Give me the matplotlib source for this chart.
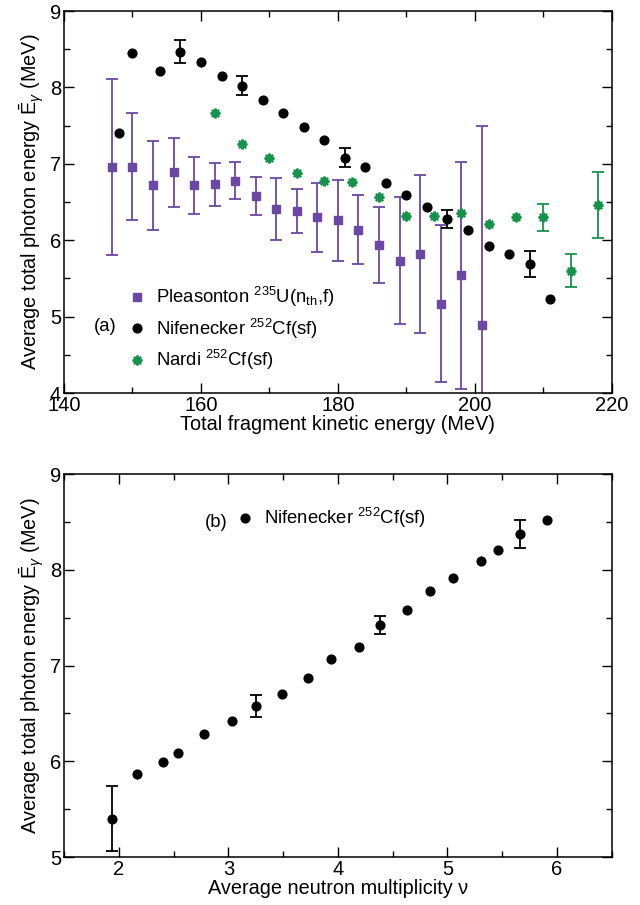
import numpy as np
import matplotlib
matplotlib.use('Agg')
import matplotlib.pyplot as plt
from matplotlib.ticker import MultipleLocator

plt.rcParams['font.family'] = ['Liberation Sans', 'DejaVu Sans']
plt.rcParams['mathtext.fontset'] = 'custom'
plt.rcParams['mathtext.rm'] = 'Liberation Sans'
plt.rcParams['mathtext.it'] = 'Liberation Sans:italic'
plt.rcParams['mathtext.sf'] = 'Liberation Sans'

# (a) photon energy vs total fragment kinetic energy
tke_pl = [147, 150, 153, 156, 159, 162, 165, 168, 171, 174, 177, 180, 183, 186, 189, 192, 195, 198, 201]
eg_pl = [6.96, 6.96, 6.72, 6.89, 6.72, 6.73, 6.78, 6.58, 6.41, 6.38, 6.30, 6.26, 6.14, 5.94, 5.73, 5.82, 5.17, 5.54, 4.89]
err_pl = [1.15, 0.70, 0.58, 0.45, 0.375, 0.285, 0.245, 0.245, 0.41, 0.29, 0.45, 0.535, 0.455, 0.495, 0.83, 1.035, 1.03, 1.485, 2.60]

tke_ni = [148, 150, 154, 157, 160, 163, 166, 169, 172, 175, 178, 181, 184, 187, 190, 193, 196, 199, 202, 205, 208, 211]
eg_ni = [7.41, 8.45, 8.21, 8.47, 8.33, 8.15, 8.02, 7.83, 7.66, 7.48, 7.31, 7.08, 6.96, 6.75, 6.59, 6.43, 6.28, 6.13, 5.92, 5.82, 5.69, 5.23]
err_ni = [np.nan, np.nan, np.nan, 0.15, np.nan, np.nan, 0.125, np.nan, np.nan, np.nan, np.nan, 0.125,
          np.nan, np.nan, np.nan, np.nan, 0.115, np.nan, np.nan, np.nan, 0.17, np.nan]

tke_na = [162, 166, 170, 174, 178, 182, 186, 190, 194, 198, 202, 206, 210, 214, 218]
eg_na = [7.67, 7.26, 7.07, 6.88, 6.77, 6.76, 6.56, 6.32, 6.32, 6.36, 6.21, 6.30, 6.30, 5.60, 6.46]
err_na = [np.nan] * 12 + [0.18, 0.215, 0.43]

# (b) photon energy vs neutron multiplicity
nu_b = [1.94, 2.17, 2.40, 2.54, 2.78, 3.03, 3.25, 3.49, 3.73, 3.94, 4.19, 4.38, 4.63, 4.84, 5.05, 5.31, 5.46, 5.66, 5.91]
eg_b = [5.40, 5.87, 5.99, 6.09, 6.29, 6.42, 6.58, 6.70, 6.87, 7.07, 7.19, 7.42, 7.58, 7.78, 7.91, 8.09, 8.21, 8.37, 8.52]
err_b = [0.34, np.nan, np.nan, np.nan, np.nan, np.nan, 0.115, np.nan, np.nan, np.nan, np.nan, 0.095,
         np.nan, np.nan, np.nan, np.nan, np.nan, 0.145, np.nan]

purple = '#6b48a3'
green = '#16934a'
fs_tick = 14.5
fs_lab = 14.3
fs_leg = 13.3
ebar = dict(fmt='none', elinewidth=1.3, capsize=4, capthick=1.3)

fig = plt.figure(figsize=(6.4, 9.05), dpi=100)
ax1 = fig.add_axes([0.1, 0.5657, 0.856, 0.4221])
ax2 = fig.add_axes([0.1, 0.053, 0.856, 0.4232])

ax1.errorbar(tke_pl, eg_pl, yerr=err_pl, ecolor=purple, **ebar)
ax1.errorbar(tke_ni, eg_ni, yerr=err_ni, ecolor='black', **ebar)
ax1.errorbar(tke_na, eg_na, yerr=err_na, ecolor=green, **ebar)
ax1.plot(tke_pl, eg_pl, ls='none', marker='s', color=purple, ms=5.8,
         label=r'Pleasonton $^{235}$U(n$_{\rm th}$,f)')
ax1.plot(tke_ni, eg_ni, ls='none', marker='o', color='black', ms=6.3,
         label=r'Nifenecker $^{252}$Cf(sf)')
ax1.plot(tke_na, eg_na, ls='none', marker=(8, 2, 0), color=green, ms=7, mew=1.6,
         label=r'Nardi $^{252}$Cf(sf)')

ax1.set_xlim(140, 220)
ax1.set_ylim(4, 9)
ax1.xaxis.set_major_locator(MultipleLocator(20))
ax1.xaxis.set_minor_locator(MultipleLocator(10))
ax1.yaxis.set_major_locator(MultipleLocator(1))
ax1.yaxis.set_minor_locator(MultipleLocator(0.5))
ax1.set_xlabel('Total fragment kinetic energy (MeV)', fontsize=fs_lab, labelpad=0)
ax1.set_ylabel(r'Average total photon energy $\bar{\rm E}_\gamma$ (MeV)', fontsize=fs_lab, labelpad=3)
ax1.legend(loc='lower left', bbox_to_anchor=(0.1, 0.03), frameon=False, fontsize=fs_leg,
           handletextpad=0.5, labelspacing=0.4, handlelength=1.0, borderpad=0)
ax1.text(0.054, 0.175, '(a)', transform=ax1.transAxes, fontsize=fs_leg, va='center')

ax2.errorbar(nu_b, eg_b, yerr=err_b, ecolor='black', **ebar)
ax2.plot(nu_b, eg_b, ls='none', marker='o', color='black', ms=6.3,
         label=r'Nifenecker $^{252}$Cf(sf)')
ax2.set_xlim(1.5, 6.5)
ax2.set_ylim(5, 9)
ax2.xaxis.set_major_locator(MultipleLocator(1))
ax2.xaxis.set_minor_locator(MultipleLocator(0.5))
ax2.yaxis.set_major_locator(MultipleLocator(1))
ax2.yaxis.set_minor_locator(MultipleLocator(0.5))
ax2.set_xlabel('Average neutron multiplicity ν', fontsize=fs_lab, labelpad=0)
ax2.set_ylabel(r'Average total photon energy $\bar{\rm E}_\gamma$ (MeV)', fontsize=fs_lab, labelpad=3)
ax2.legend(loc='upper left', bbox_to_anchor=(0.296, 0.94), frameon=False, fontsize=fs_leg,
           handletextpad=0.55, handlelength=1.0, borderpad=0)
ax2.text(0.258, 0.874, '(b)', transform=ax2.transAxes, fontsize=fs_leg, va='center')

for ax in (ax1, ax2):
    ax.tick_params(which='both', direction='in', top=True, right=True, labelsize=fs_tick, width=1)
    ax.tick_params(which='major', length=7, pad=2)
    ax.tick_params(which='minor', length=4)
    for s in ax.spines.values():
        s.set_linewidth(1.1)

fig.savefig('out.png', dpi=100)
